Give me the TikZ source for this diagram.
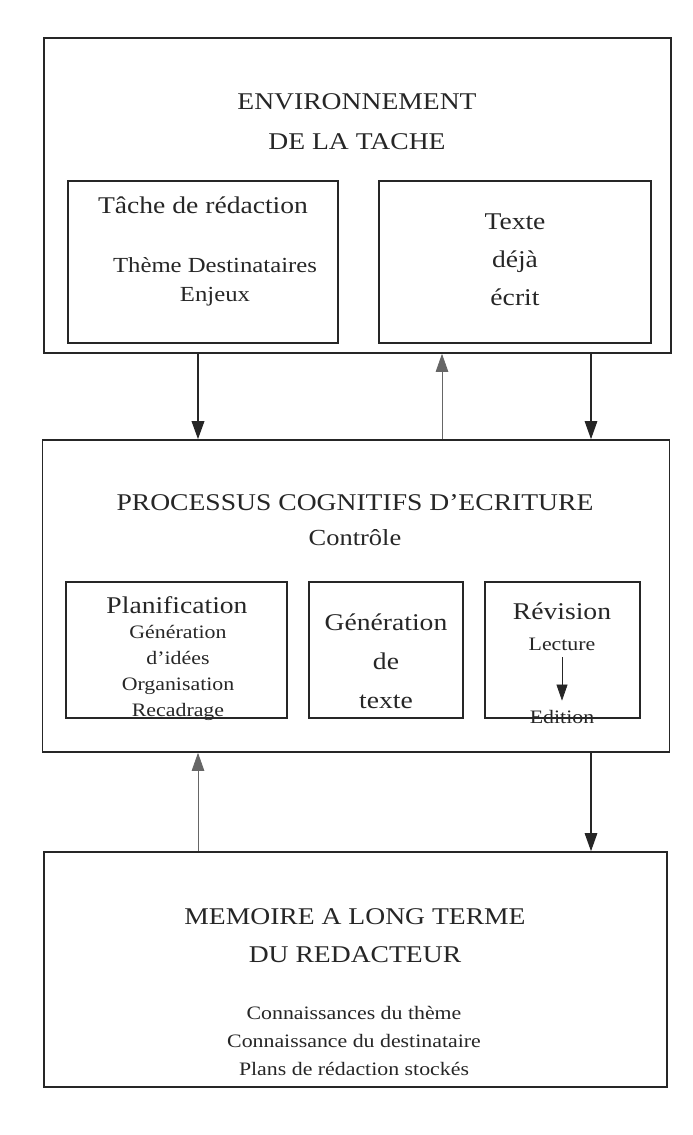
\documentclass[tikz,border=0pt]{standalone}
\usepackage{fontspec}
\setmainfont{Liberation Serif}[FakeStretch=1.15]
\usetikzlibrary{arrows.meta}

\begin{document}
\begin{tikzpicture}
  [x=1pt,y=-1pt,
   box/.style={draw=black!85,line width=1.6pt,inner sep=0pt},
   lbl/.style={inner sep=0pt,align=center,text=black!85},
   hdg/.style={lbl,font=\fontsize{24}{40}\selectfont},
   sub/.style={lbl,font=\fontsize{24}{38}\selectfont},
   itm/.style={lbl,font=\fontsize{20}{28}\selectfont},
   arr/.style={draw=black!85,-{Triangle[length=18pt,width=12.5pt]}}]
  \useasboundingbox (0,0) rectangle (693,1135);

  % environnement de la tache
  \node[box,minimum width=627,minimum height=315] (env) at (357.5,195.5) {};
  \node[hdg] (envt) at (357,122) {ENVIRONNEMENT\\DE LA TACHE};
  \node[box,line width=1.3pt,minimum width=270,minimum height=162] (tache) at (203,262) {};
  \node[sub,anchor=base] (tachet) at (203,213) {Tâche de rédaction};
  \node[itm,font=\fontsize{21.5}{29}\selectfont] (tachei) at (215,282) {Thème Destinataires\\Enjeux};
  \node[box,line width=1.3pt,minimum width=272,minimum height=162] (texte) at (515,262) {};
  \node[sub] (textet) at (515,260) {Texte\\déjà\\écrit};

  % processus cognitifs
  \node[box,minimum width=627,minimum height=312] (proc) at (356,596) {};
  \node[hdg,anchor=base] (proct) at (355,510) {PROCESSUS COGNITIFS D'ECRITURE};
  \node[itm,font=\fontsize{23}{28}\selectfont,anchor=base] (ctrl) at (355,545) {Contrôle};
  \node[box,line width=1.3pt,minimum width=221,minimum height=136] (plan) at (176.5,650) {};
  \node[sub,anchor=base] (plant) at (177,613) {Planification};
  \node[itm,font=\fontsize{19}{26}\selectfont] (plani) at (178,673) {Génération\\d'idées\\Organisation\\Recadrage};
  \node[box,line width=1.3pt,minimum width=154,minimum height=136] (gen) at (386,650) {};
  \node[sub,font=\fontsize{24}{39}\selectfont] (gent) at (386,661) {Génération\\de\\texte};
  \node[box,line width=1.3pt,minimum width=155,minimum height=136] (rev) at (562.5,650) {};
  \node[sub,anchor=base] (revt) at (562,619) {Révision};
  \node[itm,font=\fontsize{19}{27}\selectfont,anchor=base] (lect) at (562,650) {Lecture};
  \node[itm,font=\fontsize{19}{27}\selectfont,anchor=base] (edit) at (562,723) {Edition};

  % memoire a long terme
  \node[box,minimum width=623,minimum height=235] (mem) at (355.5,969.5) {};
  \node[hdg,font=\fontsize{24}{38}\selectfont] (memt) at (355,936) {MEMOIRE A LONG TERME\\DU REDACTEUR};
  \node[itm,font=\fontsize{19}{28}\selectfont] (memi) at (354,1041) {Connaissances du thème\\Connaissance du destinataire\\Plans de rédaction stockés};

  % connexions
  \coordinate (c1) at (198,0);
  \coordinate (c2) at (442,0);
  \coordinate (c3) at (591,0);
  \draw[arr,line width=1.8pt] (env.south -| c1) -- (proc.north -| c1);
  \draw[arr,line width=0.8pt,draw=black!60] (proc.north -| c2) -- (env.south -| c2);
  \draw[arr,line width=1.1pt] (env.south -| c3) -- (proc.north -| c3);
  \draw[arr,line width=0.8pt,draw=black!60] (mem.north -| c1) -- (proc.south -| c1);
  \draw[arr,line width=1.3pt] (proc.south -| c3) -- (mem.north -| c3);
  \draw[arr,line width=0.7pt,-{Triangle[length=16pt,width=11pt]},shorten <=7pt,shorten >=9pt] (lect.south) -- (edit.north);

\end{tikzpicture}
\end{document}
